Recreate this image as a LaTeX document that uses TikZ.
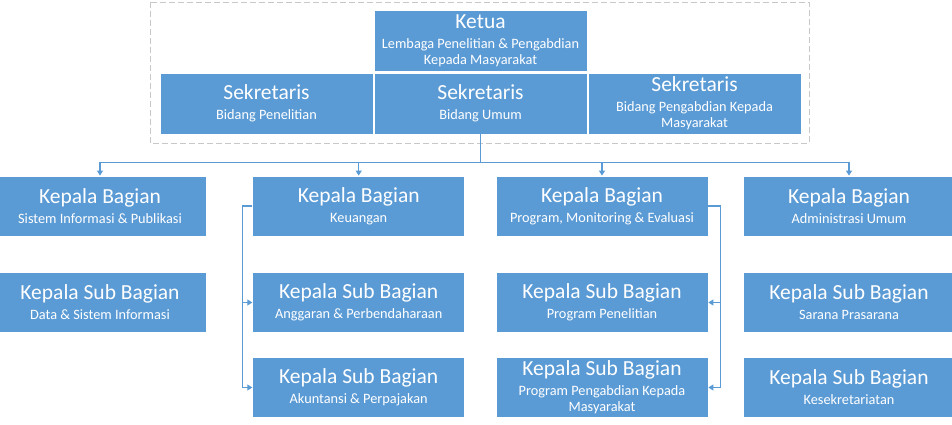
\documentclass[tikz,border=0pt]{standalone}
\usepackage{fontspec}
\setmainfont{Carlito}
\usetikzlibrary{arrows.meta}
\definecolor{boxblue}{HTML}{5B9BD5}
\definecolor{dashgray}{HTML}{C8C8C8}
\newcommand{\ttl}[1]{{\fontsize{21.5}{21.5}\selectfont #1}}
\tikzset{
  orgbox/.style={draw=white, line width=0.8pt, fill=boxblue, text=white,
    minimum width=212pt, minimum height=60pt, inner sep=0pt, align=center,
    font=\fontsize{14.3}{16}\selectfont},
  conn/.style={draw=boxblue, line width=1.1pt,
    -{Triangle[width=6pt,length=5pt]}},
  plain/.style={draw=boxblue, line width=1.1pt}
}
\begin{document}
\begin{tikzpicture}[x=1pt,y=-1pt]
\useasboundingbox (0,0) rectangle (952,425);
\clip (0,0) rectangle (952,425);
\draw[dashgray, line width=0.9pt, dash pattern=on 6pt off 3pt] (150,2) rectangle (809,143);
% top group
\node[orgbox, minimum width=213pt, minimum height=61pt] (ketua) at (480.5,40.5)
  {\ttl{Ketua}\\[4pt]Lembaga Penelitian \& Pengabdian\\Kepada Masyarakat};
\node[orgbox, minimum width=213pt, minimum height=61pt] (sek1) at (266.5,103.5)
  {\ttl{Sekretaris}\\[4pt]Bidang Penelitian};
\node[orgbox, minimum width=213pt, minimum height=61pt] (sek2) at (480.5,103.5)
  {\ttl{Sekretaris}\\[4pt]Bidang Umum};
\node[orgbox, minimum width=213pt, minimum height=61pt] (sek3) at (694.5,103.5)
  {\ttl{Sekretaris}\\[4pt]Bidang Pengabdian Kepada\\Masyarakat};
% row 2
\node[orgbox] (k1) at (100,206) {\ttl{Kepala Bagian}\\[4pt]Sistem Informasi \& Publikasi};
\node[orgbox] (k2) at (358.7,206) {\ttl{Kepala Bagian}\\[4pt]Keuangan};
\node[orgbox] (k3) at (602,206) {\ttl{Kepala Bagian}\\[4pt]Program, Monitoring \& Evaluasi};
\node[orgbox] (k4) at (849,206) {\ttl{Kepala Bagian}\\[4pt]Administrasi Umum};
% row 3
\node[orgbox] (s1a) at (100,302.5) {\ttl{Kepala Sub Bagian}\\[4pt]Data \& Sistem Informasi};
\node[orgbox] (s2a) at (358.7,302.5) {\ttl{Kepala Sub Bagian}\\[4pt]Anggaran \& Perbendaharaan};
\node[orgbox] (s3a) at (602,302.5) {\ttl{Kepala Sub Bagian}\\[4pt]Program Penelitian};
\node[orgbox] (s4a) at (849,302.5) {\ttl{Kepala Sub Bagian}\\[4pt]Sarana Prasarana};
% row 4
\node[orgbox] (s2b) at (358.7,387.5) {\ttl{Kepala Sub Bagian}\\[4pt]Akuntansi \& Perpajakan};
\node[orgbox] (s3b) at (602,387.5) {\ttl{Kepala Sub Bagian}\\[4pt]Program Pengabdian Kepada\\Masyarakat};
\node[orgbox] (s4b) at (849,387.5) {\ttl{Kepala Sub Bagian}\\[4pt]Kesekretariatan};
% connectors
\draw[plain] (sek2.south) -- ++(0,28.5) coordinate (bus);
\draw[conn] (bus) -| (k1.north);
\draw[conn] (bus) -| (k2.north);
\draw[conn] (bus) -| (k3.north);
\draw[conn] (bus) -| (k4.north);
\draw[conn] (k2.west) -- ++(-10,0) |- (s2a.west);
\draw[conn] (k2.west) -- ++(-10,0) |- (s2b.west);
\draw[conn] (k3.east) -- ++(12,0) |- (s3a.east);
\draw[conn] (k3.east) -- ++(12,0) |- (s3b.east);
\end{tikzpicture}
\end{document}
